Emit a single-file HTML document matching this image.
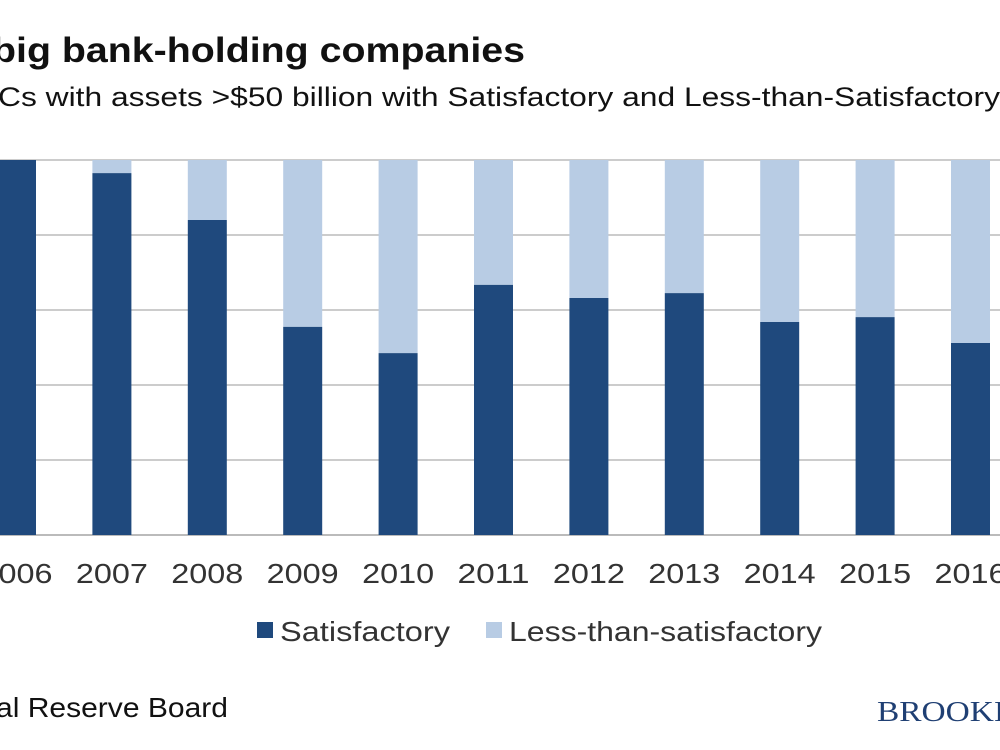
<!DOCTYPE html>
<html><head><meta charset="utf-8"><style>
body{margin:0;width:1000px;height:750px;overflow:hidden;background:#fff;font-family:"Liberation Sans",sans-serif;}
svg{display:block}
</style></head><body>
<svg id="chart" width="1000" height="750">
<text x="-8" y="62" font-size="35" font-weight="bold" fill="#111" textLength="533" lengthAdjust="spacingAndGlyphs">big bank-holding companies</text>
<text x="-2" y="106" font-size="27" fill="#111" textLength="1002" lengthAdjust="spacingAndGlyphs">Cs with assets &gt;$50 billion with Satisfactory and Less-than-Satisfactory</text>
<g id="grid"></g>
<g id="bars"></g>
<g id="xlabels"></g>
<g>
<rect x="257" y="622" width="16" height="16" fill="#1f497d"/>
<text x="280" y="641" font-size="28" fill="#333" textLength="170" lengthAdjust="spacingAndGlyphs">Satisfactory</text>
<rect x="486" y="622" width="16" height="16" fill="#b8cce4"/>
<text x="509" y="641" font-size="28" fill="#333" textLength="313" lengthAdjust="spacingAndGlyphs">Less-than-satisfactory</text>
</g>
<text x="-4" y="717" font-size="28" fill="#111" textLength="232" lengthAdjust="spacingAndGlyphs">al Reserve Board</text>
<text x="877" y="721" font-size="28" fill="#1f3f73" font-family="Liberation Serif, serif" textLength="128" lengthAdjust="spacingAndGlyphs">BROOKI</text>
</svg>
<script>
const years=["2006","2007","2008","2009","2010","2011","2012","2013","2014","2015","2016"];
const satisfactory=[100,96.5,84,55.5,48.5,66.7,63.2,64.5,56.8,58.1,51.2];
const yTicks=[0,20,40,60,80,100];
const NS="http://www.w3.org/2000/svg";
const y0=535,y1=160;
function yScale(v){return y0-(v/100)*(y0-y1);}
function xCenter(i){return 16.5+i*95.4;}
const bw=39;
const grid=document.getElementById('grid');
yTicks.forEach(t=>{const l=document.createElementNS(NS,'line');
l.setAttribute('x1',0);l.setAttribute('x2',1000);l.setAttribute('y1',yScale(t));l.setAttribute('y2',yScale(t));
l.setAttribute('stroke',t===0?'#777':'#999');l.setAttribute('stroke-width',1);


grid.appendChild(l);});
const bars=document.getElementById('bars'),xl=document.getElementById('xlabels');
years.forEach((yr,i)=>{const cx=xCenter(i),v=satisfactory[i];
const lt=document.createElementNS(NS,'rect');
lt.setAttribute('x',cx-bw/2);lt.setAttribute('width',bw);lt.setAttribute('y',yScale(100));lt.setAttribute('height',yScale(v)-yScale(100));lt.setAttribute('fill','#b8cce4');


bars.appendChild(lt);
const dk=document.createElementNS(NS,'rect');
dk.setAttribute('x',cx-bw/2);dk.setAttribute('width',bw);dk.setAttribute('y',yScale(v));dk.setAttribute('height',y0-yScale(v));dk.setAttribute('fill','#1f497d');


bars.appendChild(dk);
const t=document.createElementNS(NS,'text');
t.setAttribute('x',cx-36);t.setAttribute('y',583);t.setAttribute('font-size','28');t.setAttribute('fill','#333');
t.setAttribute('textLength','72');t.setAttribute('lengthAdjust','spacingAndGlyphs');
t.textContent=yr;


xl.appendChild(t);});
</script>
</body></html>
